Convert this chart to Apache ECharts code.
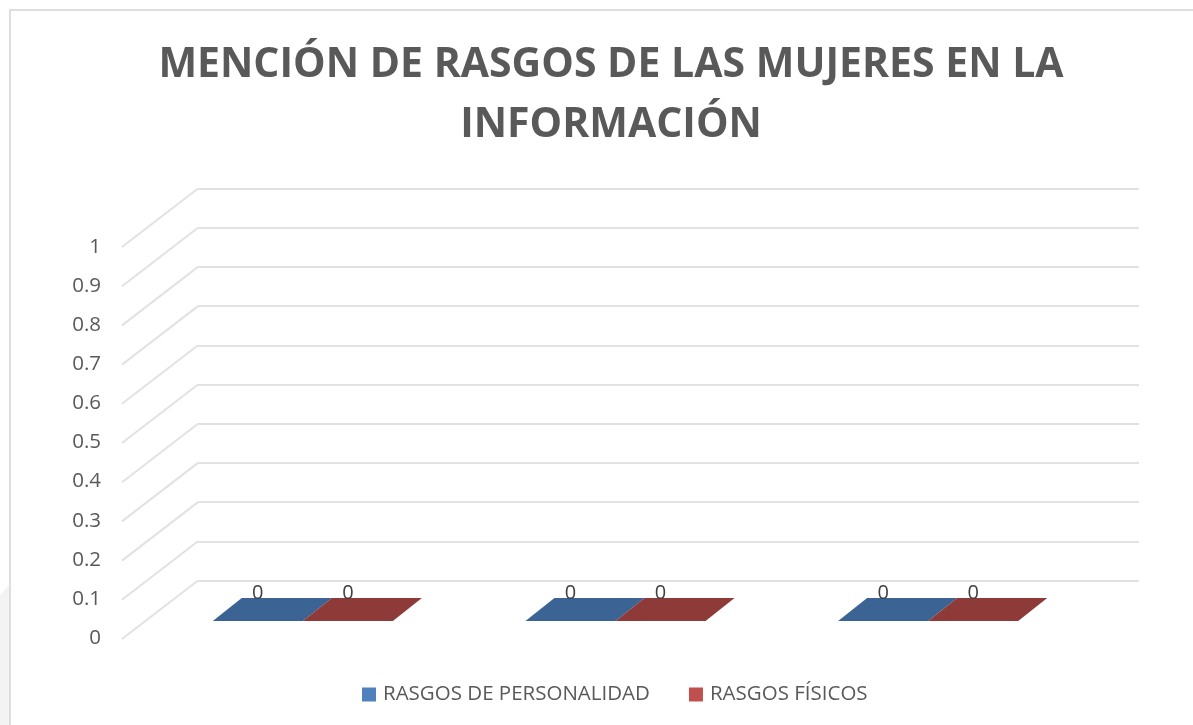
<!DOCTYPE html>
<html><head><meta charset="utf-8">
<style>html,body{margin:0;padding:0;background:#fff}#c{width:1193px;height:725px}</style>
<script src="https://cdn.jsdelivr.net/npm/echarts@6/dist/echarts.min.js"></script>
</head><body><div id="c"></div>
<script>
const categories = ['A', 'B', 'C'];
const personalidad = [0, 0, 0];
const fisicos = [0, 0, 0];
const ticks = [0, 0.1, 0.2, 0.3, 0.4, 0.5, 0.6, 0.7, 0.8, 0.9, 1];
const chartTitle = 'MENCIÓN DE RASGOS DE LAS MUJERES EN LA\nINFORMACIÓN';
const names = ['RASGOS DE PERSONALIDAD', 'RASGOS FÍSICOS'];

const FONT = 'Open Sans';
const DEPTH_X = 29, DEPTH_Y = 23;

function barSeries(name, values, side, fill, legendColor) {
  return {
    name, type: 'custom', coordinateSystem: 'cartesian2d',
    xAxisIndex: 2, yAxisIndex: 2, z: 5,
    itemStyle: { color: legendColor },
    data: values.map((v, i) => [i, v]),
    encode: { x: 0, y: 1 },
    renderItem(params, api) {
      const p = api.coord([api.value(0), api.value(1)]);
      const w = api.size([1, 0])[0] * 0.288;
      const cx = p[0] + (side < 0 ? -w / 2 : w / 2);
      const y0 = p[1] + DEPTH_Y / 2, y1 = p[1] - DEPTH_Y / 2;
      return { type: 'group', children: [
        { type: 'polygon', shape: { points: [
          [cx - w / 2 - DEPTH_X / 2, y0], [cx + w / 2 - DEPTH_X / 2, y0],
          [cx + w / 2 + DEPTH_X / 2, y1], [cx - w / 2 + DEPTH_X / 2, y1]
        ] }, style: { fill } },
        { type: 'text', z2: 10, style: {
          text: String(api.value(1)), x: cx - 14.5, y: p[1] - 16,
          align: 'center', verticalAlign: 'middle',
          font: '20px "' + FONT + '"', fill: '#404040' } }
      ] };
    }
  };
}

const chart = echarts.init(document.getElementById('c'), null, { renderer: 'canvas' });
chart.setOption({
  animation: false,
  backgroundColor: '#fff',
  title: {
    text: chartTitle, left: 606, top: 30, textAlign: 'center',
    textStyle: { fontFamily: FONT, fontWeight: 700, fontSize: 41, lineHeight: 60, color: '#595959' }
  },
  legend: {
    bottom: 20, left: 362, padding: 0, itemWidth: 14, itemHeight: 14, itemGap: 39,
    icon: 'rect',
    textStyle: { fontFamily: FONT, fontSize: 20.5, color: '#595959', padding: [0, 0, 0, 2] },
    data: names
  },
  grid: [
    { left: 198, top: 188.5, width: 941, height: 392 },
    { left: 122, top: 247, width: 941, height: 391 },
    { left: 161, top: 209.5, width: 938, height: 400 }
  ],
  xAxis: [
    { gridIndex: 0, type: 'category', data: categories, show: false },
    { gridIndex: 1, type: 'category', data: categories, show: false },
    { gridIndex: 2, type: 'category', data: categories, show: false }
  ],
  yAxis: [
    { gridIndex: 0, type: 'value', min: 0, max: 1, interval: 0.1,
      axisLine: { show: false }, axisTick: { show: false }, axisLabel: { show: false },
      splitLine: { show: true, lineStyle: { color: '#e2e2e2', width: 2 } } },
    { gridIndex: 1, type: 'value', min: 0, max: 1, interval: 0.1,
      axisLine: { show: false }, axisTick: { show: false }, splitLine: { show: false },
      axisLabel: { margin: 21, fontFamily: FONT, fontSize: 20.5, color: '#595959',
        formatter: v => String(+v.toFixed(1)) } },
    { gridIndex: 2, type: 'value', min: 0, max: 1, show: false }
  ],
  series: [
    { type: 'custom', xAxisIndex: 0, yAxisIndex: 0, silent: true, z: 1,
      data: ticks.map(t => [0, t]), encode: { x: 0, y: 1 },
      renderItem(params, api) {
        const y = api.coord([0, api.value(1)])[1];
        const x = params.coordSys.x;
        return { type: 'line', shape: { x1: x, y1: y, x2: x - 76, y2: y + 58.5 },
          style: { stroke: '#e2e2e2', lineWidth: 2 } };
      } },
    barSeries(names[0], personalidad, -1, '#3b6393', '#4f81bd'),
    barSeries(names[1], fisicos, 1, '#8e3a38', '#c0504d')
  ],
  graphic: [
    { type: 'polygon', silent: true, z: -2,
      shape: { points: [[0, 595], [9, 585], [9, 725], [0, 725]] },
      style: { fill: '#f3f3f3' } },
    { type: 'polyline', silent: true, z: -1,
      shape: { points: [[10, 725], [10, 10], [1193, 10]] },
      style: { fill: 'none', stroke: '#dedede', lineWidth: 2 } }
  ]
});
</script></body></html>
